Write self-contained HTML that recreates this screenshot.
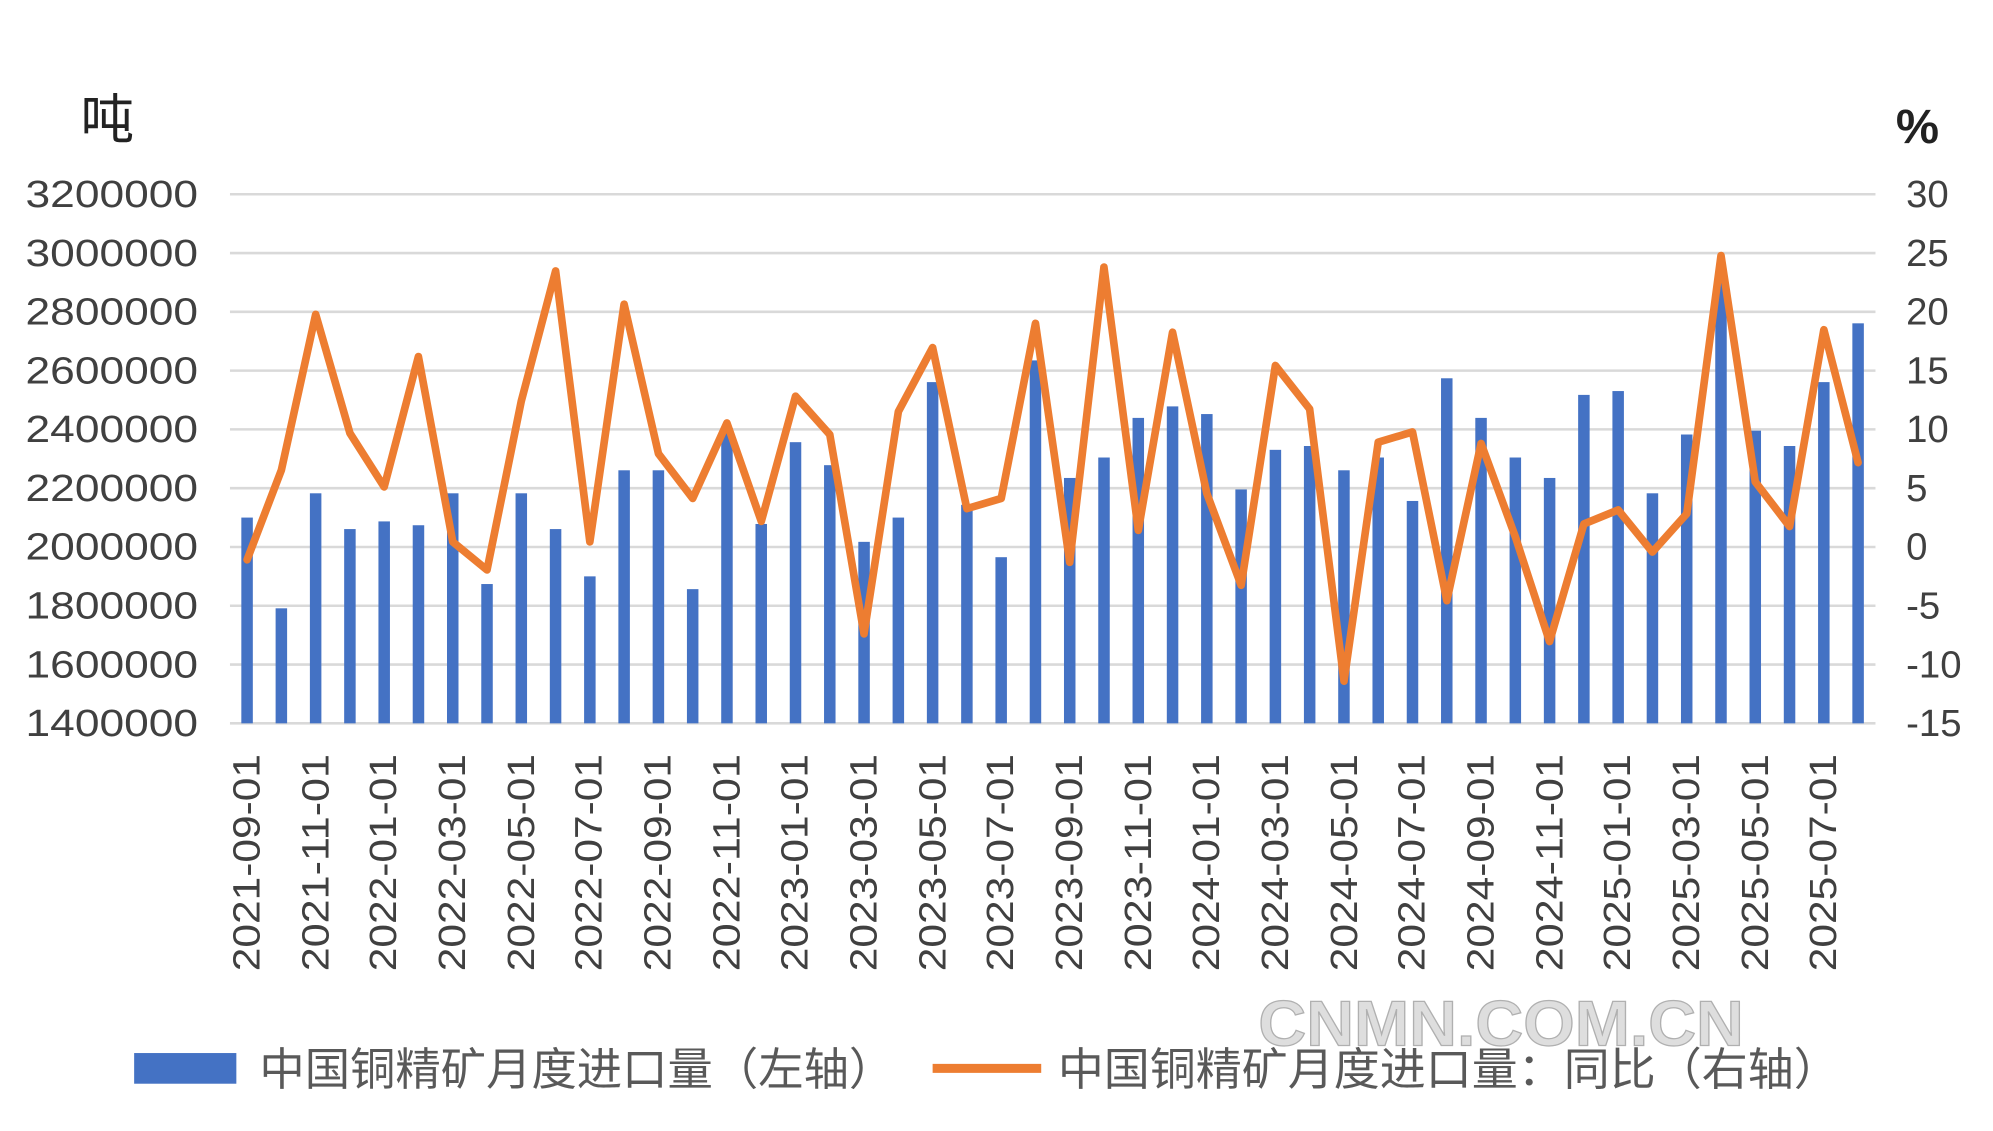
<!DOCTYPE html>
<html><head><meta charset="utf-8"><style>
html,body{margin:0;padding:0;background:#fff;}
svg{display:block;}
text{font-family:"Liberation Sans","Noto Sans CJK SC",sans-serif;fill:#404040;}
</style></head><body>
<svg id="c" width="1993" height="1131" viewBox="0 0 1560 885" preserveAspectRatio="none" xmlns="http://www.w3.org/2000/svg">
<rect width="1560" height="885" fill="#fff"/>
<g stroke="#d9d9d9" stroke-width="2">
<line x1="180" x2="1468" y1="152" y2="152"/><line x1="180" x2="1468" y1="198" y2="198"/>
<line x1="180" x2="1468" y1="244" y2="244"/><line x1="180" x2="1468" y1="290" y2="290"/>
<line x1="180" x2="1468" y1="336" y2="336"/><line x1="180" x2="1468" y1="382" y2="382"/>
<line x1="180" x2="1468" y1="428" y2="428"/><line x1="180" x2="1468" y1="474" y2="474"/>
<line x1="180" x2="1468" y1="520" y2="520"/><line x1="180" x2="1468" y1="566" y2="566"/>
</g>
<text x="63" y="108" font-size="42" style="fill:#222">吨</text>
<text x="1484" y="112" font-size="38" font-weight="bold" style="fill:#222">%</text>
<g font-size="30">
<text x="20" y="162" textLength="135" lengthAdjust="spacingAndGlyphs">3200000</text>
<text x="20" y="208" textLength="135" lengthAdjust="spacingAndGlyphs">3000000</text>
<text x="20" y="254" textLength="135" lengthAdjust="spacingAndGlyphs">2800000</text>
<text x="20" y="300" textLength="135" lengthAdjust="spacingAndGlyphs">2600000</text>
<text x="20" y="346" textLength="135" lengthAdjust="spacingAndGlyphs">2400000</text>
<text x="20" y="392" textLength="135" lengthAdjust="spacingAndGlyphs">2200000</text>
<text x="20" y="438" textLength="135" lengthAdjust="spacingAndGlyphs">2000000</text>
<text x="20" y="484" textLength="135" lengthAdjust="spacingAndGlyphs">1800000</text>
<text x="20" y="530" textLength="135" lengthAdjust="spacingAndGlyphs">1600000</text>
<text x="20" y="576" textLength="135" lengthAdjust="spacingAndGlyphs">1400000</text>
</g>
<g font-size="30">
<text x="1492" y="162">30</text><text x="1492" y="208">25</text>
<text x="1492" y="254">20</text><text x="1492" y="300">15</text>
<text x="1492" y="346">10</text><text x="1492" y="392">5</text>
<text x="1492" y="438">0</text><text x="1492" y="484">-5</text>
<text x="1492" y="530">-10</text><text x="1492" y="576">-15</text>
</g>
<g id="bars" fill="#4472C4"></g>
<polyline id="ln" fill="none" stroke="#ED7D31" stroke-width="6" stroke-linejoin="round" stroke-linecap="round"/>
<g font-size="30" text-anchor="end">
<text transform="translate(203,590) rotate(-90)" textLength="170" lengthAdjust="spacingAndGlyphs">2021-09-01</text>
<text transform="translate(257,590) rotate(-90)" textLength="170" lengthAdjust="spacingAndGlyphs">2021-11-01</text>
<text transform="translate(310,590) rotate(-90)" textLength="170" lengthAdjust="spacingAndGlyphs">2022-01-01</text>
<text transform="translate(364,590) rotate(-90)" textLength="170" lengthAdjust="spacingAndGlyphs">2022-03-01</text>
<text transform="translate(418,590) rotate(-90)" textLength="170" lengthAdjust="spacingAndGlyphs">2022-05-01</text>
<text transform="translate(471,590) rotate(-90)" textLength="170" lengthAdjust="spacingAndGlyphs">2022-07-01</text>
<text transform="translate(525,590) rotate(-90)" textLength="170" lengthAdjust="spacingAndGlyphs">2022-09-01</text>
<text transform="translate(579,590) rotate(-90)" textLength="170" lengthAdjust="spacingAndGlyphs">2022-11-01</text>
<text transform="translate(632,590) rotate(-90)" textLength="170" lengthAdjust="spacingAndGlyphs">2023-01-01</text>
<text transform="translate(686,590) rotate(-90)" textLength="170" lengthAdjust="spacingAndGlyphs">2023-03-01</text>
<text transform="translate(740,590) rotate(-90)" textLength="170" lengthAdjust="spacingAndGlyphs">2023-05-01</text>
<text transform="translate(793,590) rotate(-90)" textLength="170" lengthAdjust="spacingAndGlyphs">2023-07-01</text>
<text transform="translate(847,590) rotate(-90)" textLength="170" lengthAdjust="spacingAndGlyphs">2023-09-01</text>
<text transform="translate(901,590) rotate(-90)" textLength="170" lengthAdjust="spacingAndGlyphs">2023-11-01</text>
<text transform="translate(954,590) rotate(-90)" textLength="170" lengthAdjust="spacingAndGlyphs">2024-01-01</text>
<text transform="translate(1008,590) rotate(-90)" textLength="170" lengthAdjust="spacingAndGlyphs">2024-03-01</text>
<text transform="translate(1062,590) rotate(-90)" textLength="170" lengthAdjust="spacingAndGlyphs">2024-05-01</text>
<text transform="translate(1115,590) rotate(-90)" textLength="170" lengthAdjust="spacingAndGlyphs">2024-07-01</text>
<text transform="translate(1169,590) rotate(-90)" textLength="170" lengthAdjust="spacingAndGlyphs">2024-09-01</text>
<text transform="translate(1223,590) rotate(-90)" textLength="170" lengthAdjust="spacingAndGlyphs">2024-11-01</text>
<text transform="translate(1276,590) rotate(-90)" textLength="170" lengthAdjust="spacingAndGlyphs">2025-01-01</text>
<text transform="translate(1330,590) rotate(-90)" textLength="170" lengthAdjust="spacingAndGlyphs">2025-03-01</text>
<text transform="translate(1384,590) rotate(-90)" textLength="170" lengthAdjust="spacingAndGlyphs">2025-05-01</text>
<text transform="translate(1437,590) rotate(-90)" textLength="170" lengthAdjust="spacingAndGlyphs">2025-07-01</text>
</g>
<text x="985" y="818" font-size="50" font-weight="bold" style="fill:#dedede;stroke:#b0b0b0;stroke-width:1" textLength="380" lengthAdjust="spacingAndGlyphs">CNMN.COM.CN</text>
<rect x="105" y="824" width="80" height="24" fill="#4472C4"/>
<text x="203" y="849" font-size="35" style="fill:#595959" textLength="497" lengthAdjust="spacingAndGlyphs">中国铜精矿月度进口量（左轴）</text>
<line x1="730" x2="815" y1="836" y2="836" stroke="#ED7D31" stroke-width="7"/>
<text x="828" y="849" font-size="35" style="fill:#595959" textLength="612" lengthAdjust="spacingAndGlyphs">中国铜精矿月度进口量：同比（右轴）</text>
</svg>
<script>
var tops=[405,476,386,414,408,411,386,457,386,414,451,368,368,461,335,410,346,364,424,405,299,395,436,282,374,358,327,318,324,383,352,349,368,358,392,296,327,358,374,309,306,386,340,215,337,349,299,253];
var ly=[438,368,246,339,381,279,424,446,314,212,424,238,355,390,331,408,310,340,496,322,272,398,390,253,440,209,415,260,386,458,286,320,533,346,338,470,347,420,502,410,399,432,402,200,377,412,258,362];
var g=document.getElementById('bars'),ns='http://www.w3.org/2000/svg',pts=[];
for(var i=0;i<48;i++){var cx=193.4+i*26.83;var r=document.createElementNS(ns,'rect');
r.setAttribute('x',cx-4.5);r.setAttribute('width',9);r.setAttribute('y',tops[i]);r.setAttribute('height',566-tops[i]);g.appendChild(r);
pts.push(cx.toFixed(1)+','+ly[i]);}
document.getElementById('ln').setAttribute('points',pts.join(' '));
</script>
</body></html>
